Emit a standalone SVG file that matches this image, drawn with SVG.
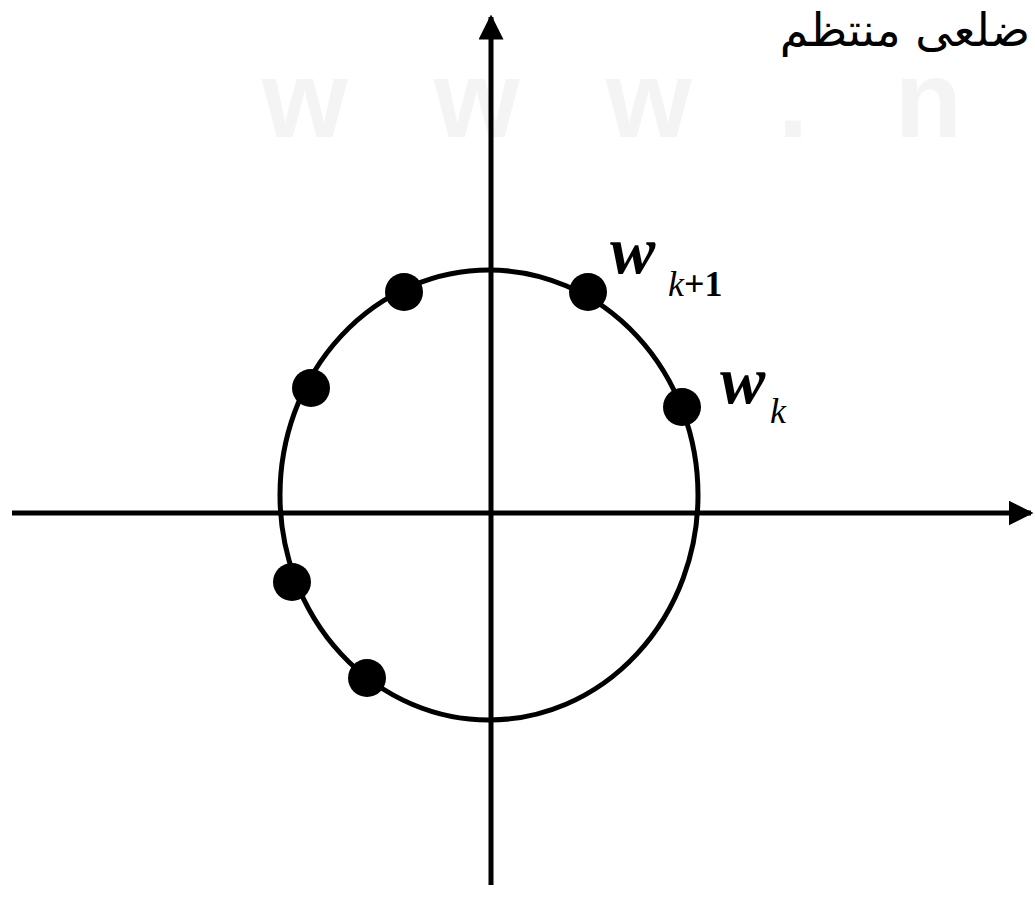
<svg xmlns="http://www.w3.org/2000/svg" width="1035" height="912" viewBox="0 0 1035 912">
<style>
.ax{stroke:#000;stroke-width:5;fill:none}
.dot{fill:#000}
.w{font-family:"Liberation Serif",serif;font-weight:bold;font-style:italic;fill:#000}
.sub{font-family:"Liberation Serif",serif;fill:#000}
.wm{font-family:"Liberation Sans",sans-serif;font-weight:bold;fill:#f4f4f4}
</style>
<defs>
<marker id="ah" viewBox="0 0 10 10" refX="9" refY="5" markerWidth="5" markerHeight="5" orient="auto" markerUnits="strokeWidth">
<path d="M0,0 L10,5 L0,10 z" fill="#000"/>
</marker>
</defs>
<rect width="1035" height="912" fill="#fff"/>
<text class="wm" x="262" y="137" font-size="110" textLength="700" lengthAdjust="spacing">w w w . n</text>
<text x="1030" y="46" font-family="'DejaVu Sans','Noto Sans',sans-serif" font-size="46" text-anchor="end" fill="#000">ضلعی منتظم</text>
<g id="connectors">
<line class="ax" x1="491" y1="885" x2="491" y2="17" marker-end="url(#ah)"/>
<line class="ax" x1="12" y1="513" x2="1031" y2="513" marker-end="url(#ah)"/>
</g>
<g id="circle">
<ellipse cx="489" cy="495" rx="209" ry="225" fill="none" stroke="#000" stroke-width="5"/>
</g>
<g id="points">
<circle class="dot" cx="404" cy="292" r="19"/>
<circle class="dot" cx="588" cy="292" r="19"/>
<circle class="dot" cx="311" cy="388" r="19"/>
<circle class="dot" cx="682" cy="407" r="19"/>
<circle class="dot" cx="292" cy="582" r="19"/>
<circle class="dot" cx="367" cy="678" r="19"/>
</g>
<g id="label-wk1">
<text class="w" x="610" y="273" font-size="68">w</text>
<text class="sub" x="668" y="296" font-size="36"><tspan font-style="italic">k</tspan><tspan font-weight="bold">+1</tspan></text>
</g>
<g id="label-wk">
<text class="w" x="720" y="403" font-size="68">w</text>
<text class="sub" x="770" y="423" font-size="36" font-style="italic">k</text>
</g>
</svg>
